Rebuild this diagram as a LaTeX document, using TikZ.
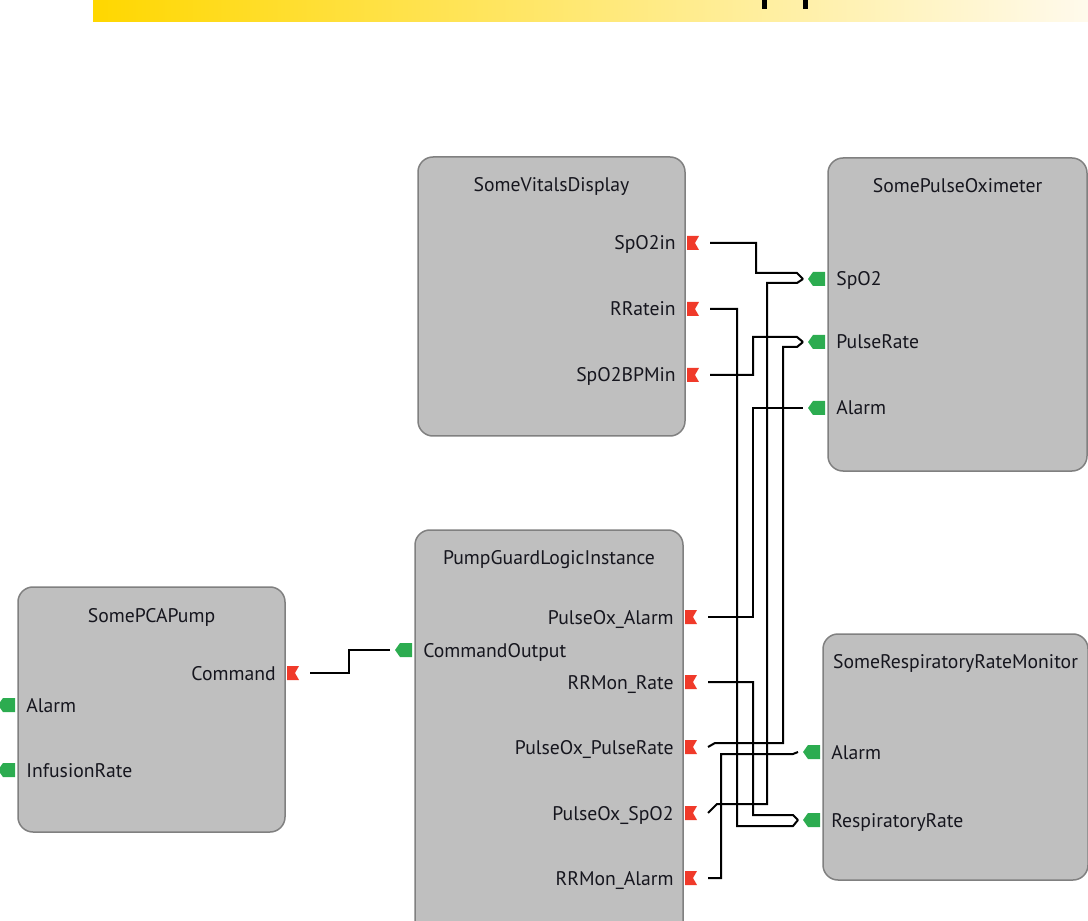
\documentclass[tikz,border=0pt]{standalone}
\usepackage{fontspec}
\setmainfont{PT Sans}
\usetikzlibrary{shapes.symbols,positioning}

\definecolor{unitfill}{RGB}{191,191,191}
\definecolor{unitline}{RGB}{128,128,128}
\definecolor{outred}{RGB}{240,58,42}
\definecolor{ingreen}{RGB}{44,172,80}
\definecolor{bargold}{RGB}{255,215,0}
\definecolor{barcream}{RGB}{255,250,236}
\definecolor{labeltext}{RGB}{22,22,30}

\tikzset{
  unit/.style={fill=unitfill, draw=unitline, line width=0.3mm, rounded corners=3mm},
  title/.style={anchor=base, inner sep=0pt, text=labeltext, font=\fontsize{11.2}{13}\selectfont},
  plabel/.style={inner sep=0pt, text=labeltext, font=\fontsize{11.2}{13}\selectfont},
  outport/.style={signal, signal from=east, signal to=nowhere, signal pointer angle=120,
    fill=outred, inner sep=0pt, minimum width=2.4mm, minimum height=2.8mm},
  inport/.style={signal, signal to=west, signal from=nowhere, signal pointer angle=110,
    fill=ingreen, inner sep=0pt, minimum width=3.4mm, minimum height=2.8mm},
  wire/.style={line width=0.4mm, black}
}

\begin{document}
\begin{tikzpicture}[x=0.2mm, y=-0.2mm]
\useasboundingbox (0,0) rectangle (1088,921);
\clip (0,0) rectangle (1088,921);

% banner at the top of the slide
\shade[left color=bargold, right color=barcream] (93,0) rectangle (1088,22);
\fill[black] (762,0) rectangle (767,9);
\fill[black] (803,0) rectangle (808,9);

% the five units
\draw[unit] (418,157) rectangle (685,436);
\node[title] (vdTitle) at (551.5,192) {SomeVitalsDisplay};
\draw[unit] (828,158) rectangle (1087,471);
\node[title] (poTitle) at (957.5,193) {SomePulseOximeter};
\draw[unit] (415,530) rectangle (683,960);
\node[title] (pglTitle) at (549,564) {PumpGuardLogicInstance};
\draw[unit] (18,587) rectangle (285,832);
\node[title] (pcaTitle) at (151.5,622) {SomePCAPump};
\draw[unit] (823,634) rectangle (1088,880);
\node[title] (rrTitle) at (955.5,668) {SomeRespiratoryRateMonitor};

% output ports (red)
\node[outport] (vdSpO2in) at (691,243) {};
\node[outport] (vdRRatein) at (691,309) {};
\node[outport] (vdSpO2BPMin) at (691,375) {};
\node[outport] (pglPOAlarm) at (689,617) {};
\node[outport] (pglRRRate) at (689,682) {};
\node[outport] (pglPOPulseRate) at (689,747) {};
\node[outport] (pglPOSpO2) at (689,813) {};
\node[outport] (pglRRAlarm) at (689,878) {};
\node[outport] (pcaCommand) at (291,673) {};

% input ports (green)
\node[inport] (poSpO2) at (819,279) {};
\node[inport] (poPulseRate) at (819,342) {};
\node[inport] (poAlarm) at (819,408) {};
\node[inport] (rrAlarm) at (814,752) {};
\node[inport] (rrRespRate) at (814,820) {};
\node[inport] (pglCommandOut) at (406,650) {};
\node[inport] (pcaAlarm) at (9,705) {};
\node[inport] (pcaInfusion) at (9,770) {};

% port labels
\node[plabel, anchor=base east] at ([xshift=-3mm, yshift=-1.4mm]vdSpO2in.center) {SpO2in};
\node[plabel, anchor=base east] at ([xshift=-3mm, yshift=-1.4mm]vdRRatein.center) {RRatein};
\node[plabel, anchor=base east] at ([xshift=-3mm, yshift=-1.4mm]vdSpO2BPMin.center) {SpO2BPMin};
\node[plabel, anchor=base east] at ([xshift=-3mm, yshift=-1.4mm]pglPOAlarm.center) {PulseOx\_Alarm};
\node[plabel, anchor=base east] at ([xshift=-3mm, yshift=-1.4mm]pglRRRate.center) {RRMon\_Rate};
\node[plabel, anchor=base east] at ([xshift=-3mm, yshift=-1.4mm]pglPOPulseRate.center) {PulseOx\_PulseRate};
\node[plabel, anchor=base east] at ([xshift=-3mm, yshift=-1.4mm]pglPOSpO2.center) {PulseOx\_SpO2};
\node[plabel, anchor=base east] at ([xshift=-3mm, yshift=-1.4mm]pglRRAlarm.center) {RRMon\_Alarm};
\node[plabel, anchor=base east] at ([xshift=-3mm, yshift=-1.4mm]pcaCommand.center) {Command};
\node[plabel, anchor=base west] at ([xshift=3.4mm, yshift=-1.4mm]poSpO2.center) {SpO2};
\node[plabel, anchor=base west] at ([xshift=3.4mm, yshift=-1.4mm]poPulseRate.center) {PulseRate};
\node[plabel, anchor=base west] at ([xshift=3.4mm, yshift=-1.4mm]poAlarm.center) {Alarm};
\node[plabel, anchor=base west] at ([xshift=3.4mm, yshift=-1.4mm]rrAlarm.center) {Alarm};
\node[plabel, anchor=base west] at ([xshift=3.4mm, yshift=-1.4mm]rrRespRate.center) {RespiratoryRate};
\node[plabel, anchor=base west] at ([xshift=3.4mm, yshift=-1.4mm]pglCommandOut.center) {CommandOutput};
\node[plabel, anchor=base west] at ([xshift=3.4mm, yshift=-1.4mm]pcaAlarm.center) {Alarm};
\node[plabel, anchor=base west] at ([xshift=3.4mm, yshift=-1.4mm]pcaInfusion.center) {InfusionRate};

% where the wires meet the input ports
\coordinate (poSpO2Tip) at ([xshift=-3.2mm]poSpO2.center);
\coordinate (poPulseRateTip) at ([xshift=-3.2mm]poPulseRate.center);
\coordinate (poAlarmTip) at ([xshift=-3.2mm]poAlarm.center);
\coordinate (rrAlarmTip) at ([xshift=-3.2mm]rrAlarm.center);
\coordinate (rrRespRateTip) at ([xshift=-3.2mm]rrRespRate.center);
\coordinate (pglCommandOutTip) at ([xshift=-3.2mm]pglCommandOut.center);

% wires
\draw[wire] ([xshift=3.8mm]vdSpO2in.center) -- ++(46,0) -- ++(0,30) -- ++(41,0) -- (poSpO2Tip);
\draw[wire] ([xshift=3.8mm]pglPOSpO2.center) -- ++(9,-9) -- ++(50,0) -- ++(0,-521) -- ++(30,0) -- (poSpO2Tip);
\draw[wire] ([xshift=3.8mm]vdRRatein.center) -- ++(27,0) -- ++(0,517) -- ++(56,0) -- (rrRespRateTip);
\draw[wire] ([xshift=3.8mm]pglRRRate.center) -- ++(45,0) -- ++(0,133) -- ++(40,0) -- (rrRespRateTip);
\draw[wire] ([xshift=3.8mm]vdSpO2BPMin.center) -- ++(43,0) -- ++(0,-38) -- ++(44,0) -- (poPulseRateTip);
\draw[wire] ([xshift=3.8mm]pglPOPulseRate.center) -- ++(7,-4) -- ++(68,0) -- ++(0,-396) -- ++(14,0) -- (poPulseRateTip);
\draw[wire] ([xshift=3.8mm]pglPOAlarm.center) -- ++(45,0) |- (poAlarmTip);
\draw[wire] ([xshift=3.8mm]pglRRAlarm.center) -- ++(13,0) -- ++(0,-124) -- ++(72,0) -- (rrAlarmTip);
\draw[wire] ([xshift=3.8mm]pcaCommand.center) -- ++(39,0) |- (pglCommandOutTip);
\end{tikzpicture}
\end{document}
